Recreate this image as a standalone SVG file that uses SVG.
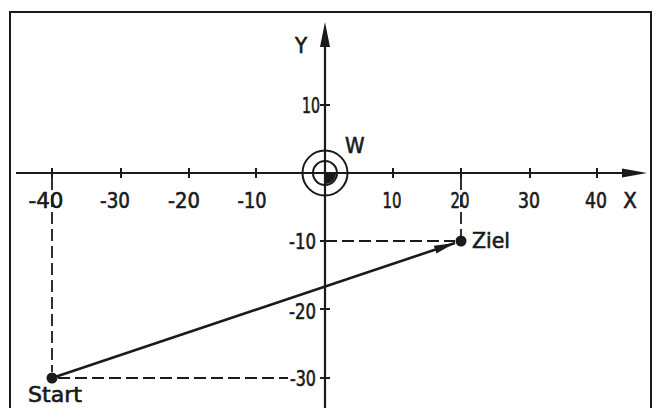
<svg xmlns="http://www.w3.org/2000/svg" width="658" height="408" viewBox="0 0 658 408">
<style>
.ln{stroke:#1a1a1a;stroke-width:2;fill:none}
.ax{stroke:#1a1a1a;stroke-width:2.2;fill:none}
.tk{stroke:#1a1a1a;stroke-width:2;fill:none}
.da{stroke:#1a1a1a;stroke-width:1.8;fill:none;stroke-dasharray:12 5}
.t{font-family:"DejaVu Sans Condensed","DejaVu Sans",sans-serif;font-size:22px;fill:#1a1a1a;stroke:#1a1a1a;stroke-width:0.6}
.m{text-anchor:middle}
.e{text-anchor:end}
.dot{fill:#1a1a1a}
</style>
<defs>
<marker id="ah" markerWidth="22" markerHeight="10" refX="21" refY="5" orient="auto" markerUnits="userSpaceOnUse">
<path d="M0,1 L21,5 L0,9 Z" fill="#1a1a1a"/>
</marker>
</defs>
<rect width="658" height="408" fill="#fff"/>
<g id="frame">
<path class="ln" d="M10,408 V12 H651 V408"/>
</g>
<g id="axes">
<line class="ax" x1="16" y1="173" x2="626" y2="173"/>
<path d="M647,173 L622,168.5 L622,177.5 Z" fill="#1a1a1a"/>
<line class="ax" x1="325" y1="408" x2="325" y2="44"/>
<path d="M325,22 L320,47 L330,47 Z" fill="#1a1a1a"/>
<g id="xticks">
<path class="tk" d="M52,168V178M121,168V178M189,168V178M256,168V178M393,168V178M461,168V178M530,168V178M597,168V178"/>
</g>
<g id="yticks">
<path class="tk" d="M320,105H330M320,241H330M320,309H330M320,378H330"/>
</g>
<text class="t m" x="46" y="208" textLength="35" lengthAdjust="spacingAndGlyphs">-40</text>
<text class="t m" x="115" y="208" textLength="30" lengthAdjust="spacingAndGlyphs">-30</text>
<text class="t m" x="184" y="208" textLength="32" lengthAdjust="spacingAndGlyphs">-20</text>
<text class="t m" x="252" y="208" textLength="29" lengthAdjust="spacingAndGlyphs">-10</text>
<text class="t m" x="392" y="208" textLength="19" lengthAdjust="spacingAndGlyphs">10</text>
<text class="t m" x="460" y="208" textLength="19" lengthAdjust="spacingAndGlyphs">20</text>
<text class="t m" x="529" y="208" textLength="22" lengthAdjust="spacingAndGlyphs">30</text>
<text class="t m" x="596" y="208" textLength="22" lengthAdjust="spacingAndGlyphs">40</text>
<text class="t m" x="630" y="208">X</text>
<text class="t m" x="301" y="53">Y</text>
<text class="t e" x="320" y="113" textLength="18" lengthAdjust="spacingAndGlyphs">10</text>
<text class="t e" x="316" y="249" textLength="27" lengthAdjust="spacingAndGlyphs">-10</text>
<text class="t e" x="316" y="319" textLength="27" lengthAdjust="spacingAndGlyphs">-20</text>
<text class="t e" x="316" y="386" textLength="26" lengthAdjust="spacingAndGlyphs">-30</text>
</g>
<g id="W">
<circle class="ln" cx="325" cy="173" r="22.5"/>
<circle class="ln" cx="325" cy="173" r="12"/>
<path d="M325,173 H336 A11,11 0 0 1 325,184 Z" fill="#1a1a1a"/>
<text class="t" x="345" y="153">W</text>
</g>
<g id="connectors">
<line class="da" x1="52" y1="178" x2="52" y2="372"/>
<line class="da" x1="58" y1="378" x2="288" y2="378"/>
<line class="da" x1="325" y1="241" x2="455" y2="241"/>
<line class="da" x1="461" y1="178" x2="461" y2="236"/>
<line stroke="#1a1a1a" stroke-width="2.6" x1="52" y1="378" x2="455" y2="243" marker-end="url(#ah)"/>
</g>
<g id="start">
<circle class="dot" cx="52" cy="378" r="5.5"/>
<text class="t" x="28" y="402" font-size="21" textLength="54" lengthAdjust="spacingAndGlyphs">Start</text>
</g>
<g id="ziel">
<circle class="dot" cx="461" cy="241" r="5.5"/>
<text class="t" x="472" y="248" textLength="38" lengthAdjust="spacingAndGlyphs">Ziel</text>
</g>
</svg>
